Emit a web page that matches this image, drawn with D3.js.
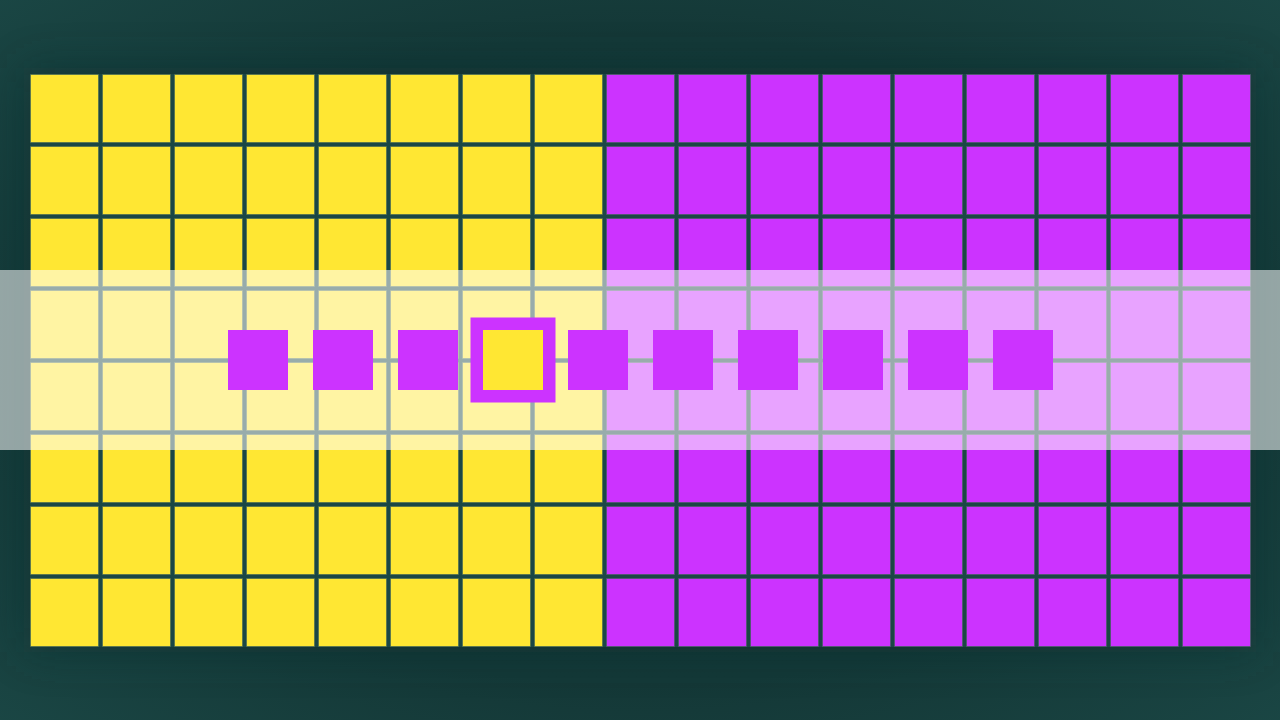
<!DOCTYPE html>
<html>
<head>
<meta charset="utf-8">
<script src="https://cdn.jsdelivr.net/npm/d3@7"></script>
<style>
html,body{margin:0;padding:0;background:#163d3c;}
svg{display:block;}
</style>
</head>
<body>
<svg id="chart" width="1280" height="720"></svg>
<script>
// Data
const groupNames = ["yellow", "purple"];
const groupCounts = [8, 9];
const rowCount = 8;
const markerColors = ["purple","purple","purple","yellow","purple","purple","purple","purple","purple","purple"];
const highlightIndex = 3;

const palette = {yellow: "#FFE733", purple: "#CC33FF"};

const svg = d3.select("#chart");
const W = 1280, H = 720;

// background
const defs = svg.append("defs");
const rg = defs.append("radialGradient").attr("id","bg").attr("cx","50%").attr("cy","50%").attr("r","75%");
rg.append("stop").attr("offset","0%").attr("stop-color","#133635");
rg.append("stop").attr("offset","60%").attr("stop-color","#143837");
rg.append("stop").attr("offset","100%").attr("stop-color","#1b4846");
svg.append("rect").attr("width",W).attr("height",H).attr("fill","url(#bg)");
const blur = defs.append("filter").attr("id","shadow").attr("x","-20%").attr("y","-20%").attr("width","140%").attr("height","140%");
blur.append("feGaussianBlur").attr("stdDeviation",22);
svg.append("rect").attr("x",24).attr("y",68).attr("width",1232).attr("height",584)
  .attr("fill","#0f2e2e").attr("opacity",0.45).attr("filter","url(#shadow)");

// cells
const cols = [];
groupNames.forEach((g, gi) => { for (let k = 0; k < groupCounts[gi]; k++) cols.push(g); });
const x = d3.scaleBand().domain(d3.range(cols.length)).range([30, 1251]).paddingInner(3/72).paddingOuter(0);
const y = d3.scaleBand().domain(d3.range(rowCount)).range([74, 647]).paddingInner(3/72).paddingOuter(0);

svg.append("rect").attr("x",30).attr("y",74).attr("width",1221).attr("height",573).attr("fill","#1b4745");

const cells = [];
d3.range(rowCount).forEach(r => cols.forEach((g, c) => cells.push({r, c, g})));
svg.append("g").selectAll("rect").data(cells).join("rect")
  .attr("x", d => x(d.c) + 0.5).attr("y", d => y(d.r) + 0.5)
  .attr("width", x.bandwidth() - 1).attr("height", y.bandwidth() - 1)
  .attr("fill", d => palette[d.g])
  .attr("stroke", "#3f6458").attr("stroke-opacity", 0.6).attr("stroke-width", 1);

// band
svg.append("rect").attr("x",0).attr("y",270).attr("width",W).attr("height",180)
  .attr("fill","#ffffff").attr("opacity",0.55);

// markers
const m = d3.scaleBand().domain(d3.range(markerColors.length)).range([228, 1053]).paddingInner(25/85).paddingOuter(0);
const my = 330, ms = m.bandwidth();
const mg = svg.append("g");
mg.selectAll("rect.hl").data([highlightIndex]).join("rect").attr("class","hl")
  .attr("x", i => m(i) - 12.5).attr("y", my - 12.5)
  .attr("width", ms + 25).attr("height", ms + 25)
  .attr("fill", palette.purple);
mg.selectAll("rect.mk").data(markerColors).join("rect").attr("class","mk")
  .attr("x", (d, i) => m(i)).attr("y", my)
  .attr("width", ms).attr("height", ms)
  .attr("fill", d => palette[d]);
</script>
</body>
</html>
